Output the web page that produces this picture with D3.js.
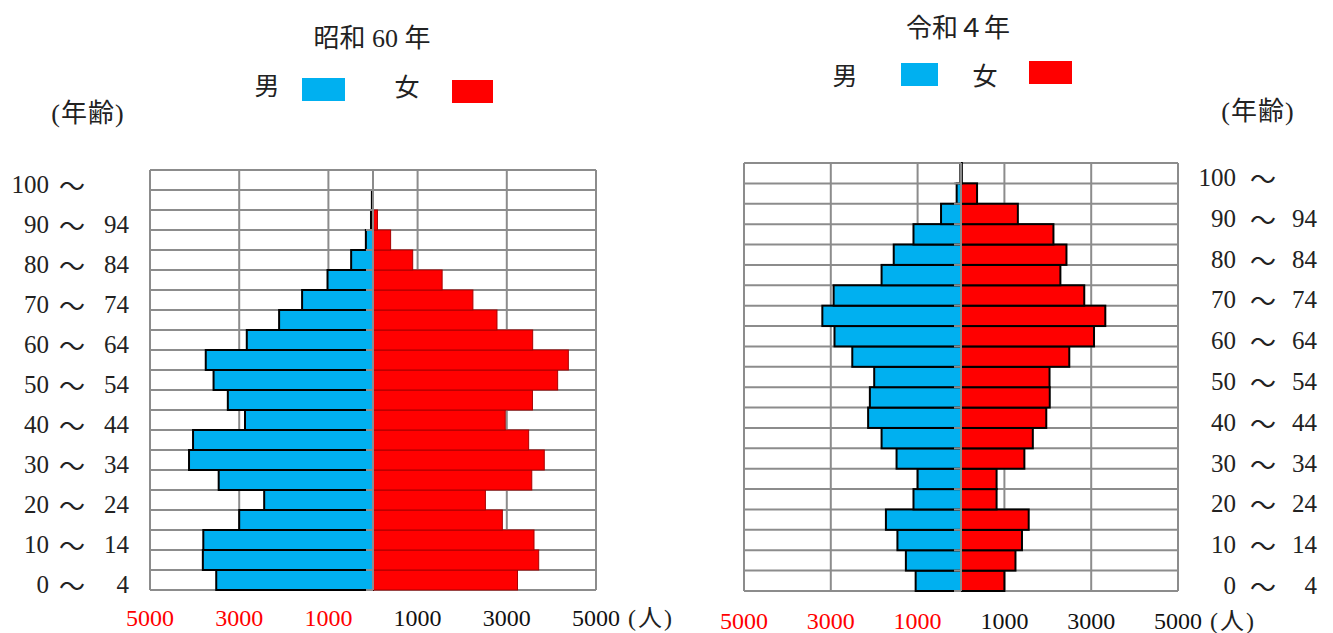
<!DOCTYPE html>
<html lang="ja">
<head>
  <meta charset="UTF-8">
  <title>人口ピラミッド</title>
  <style>
    body {
      margin: 0;
      background-color: #ffffff;
    }
    svg text {
      font-family: 'Liberation Serif', 'Noto Sans CJK JP', serif;
      fill: #222;
    }
  </style>
</head>
<body>
  <svg width="1333" height="633"></svg>
  <script src="https://d3js.org/d3.v7.min.js"></script>
  <script>
    // age groups, youngest first
    const ageGroups = ['0-4', '5-9', '10-14', '15-19', '20-24', '25-29', '30-34', '35-39', '40-44', '45-49',
      '50-54', '55-59', '60-64', '65-69', '70-74', '75-79', '80-84', '85-89', '90-94', '95-99', '100-'];
    const ageLabelLo = ['0', '10', '20', '30', '40', '50', '60', '70', '80', '90', '100'];
    const ageLabelHi = ['4', '14', '24', '34', '44', '54', '64', '74', '84', '94', ''];

    // 昭和60年
    const s60Male = [3515, 3815, 3805, 3000, 2440, 3460, 4125, 4035, 2870, 3255,
      3575, 3750, 2830, 2105, 1590, 1020, 490, 160, 45, 25, 0];
    const s60Female = [3240, 3715, 3610, 2900, 2520, 3560, 3840, 3490, 2965, 3575,
      4140, 4380, 3580, 2780, 2240, 1550, 890, 395, 100, 10, 0];

    // 令和4年
    const r4Male = [1045, 1270, 1465, 1730, 1095, 1000, 1485, 1830, 2140, 2100,
      2000, 2505, 2915, 3195, 2935, 1830, 1550, 1095, 460, 100, 15];
    const r4Female = [1000, 1255, 1405, 1560, 820, 820, 1460, 1655, 1965, 2045,
      2040, 2495, 3065, 3325, 2840, 2290, 2430, 2130, 1310, 370, 20];

    const xTicks = [-5000, -3000, -1000, 1000, 3000, 5000];
    const gridTicks = [-5000, -3000, -1000, 0, 1000, 3000, 5000];

    const svg = d3.select('svg');
    const blue = '#00b0f0';
    const red = '#ff0000';
    const gridColor = '#8c8c8c';

    function drawPyramid(cfg) {
      const g = svg.append('g');
      const x = d3.scaleLinear().domain([-5000, 5000]).range([cfg.left, cfg.right]);
      const y = d3.scaleBand().domain(ageGroups.slice().reverse()).range([cfg.top, cfg.bottom]).padding(0);
      const cx = x(0);

      // grid rows + columns
      const bounds = d3.range(ageGroups.length + 1).map(i => cfg.top + i * y.bandwidth());
      g.selectAll('line.hgrid').data(bounds).join('line')
        .attr('x1', cfg.left).attr('x2', cfg.right)
        .attr('y1', d => d).attr('y2', d => d)
        .attr('stroke', gridColor).attr('stroke-width', 2);
      g.selectAll('line.vgrid').data(gridTicks).join('line')
        .attr('x1', d => x(d)).attr('x2', d => x(d))
        .attr('y1', cfg.top).attr('y2', cfg.bottom)
        .attr('stroke', gridColor).attr('stroke-width', 2);

      // bars
      g.selectAll('rect.male').data(cfg.male).join('rect')
        .attr('x', d => x(-d))
        .attr('y', (d, i) => y(ageGroups[i]))
        .attr('width', d => cx - x(-d))
        .attr('height', y.bandwidth())
        .attr('fill', blue)
        .attr('stroke', '#000').attr('stroke-width', 2);
      g.selectAll('rect.female').data(cfg.female).join('rect')
        .attr('x', cx)
        .attr('y', (d, i) => y(ageGroups[i]))
        .attr('width', d => x(d) - cx)
        .attr('height', y.bandwidth())
        .attr('fill', red)
        .attr('stroke', cfg.femaleStroke).attr('stroke-width', cfg.femaleStrokeW);

      // centre axis and its ticks
      g.append('line')
        .attr('x1', cx).attr('x2', cx).attr('y1', cfg.top).attr('y2', cfg.bottom)
        .attr('stroke', gridColor).attr('stroke-width', 2);
      g.selectAll('line.tick').data(bounds).join('line')
        .attr('x1', cx - 7).attr('x2', cx)
        .attr('y1', d => d).attr('y2', d => d)
        .attr('stroke', gridColor).attr('stroke-width', 2);

      // x labels
      g.selectAll('text.xl').data(xTicks).join('text')
        .attr('x', d => x(d))
        .attr('y', cfg.xLabelY)
        .attr('text-anchor', 'middle')
        .style('font-size', '24px')
        .style('fill', d => d < 0 ? red : '#111')
        .text(d => Math.abs(d));
      g.append('text')
        .attr('x', x(5000) + 32).attr('y', cfg.xLabelY)
        .style('font-size', '24px')
        .style('letter-spacing', '2px')
        .text('(人)');

      // age labels, every other row
      const labelRows = ageLabelLo.map((d, i) => ({ lo: d, hi: ageLabelHi[i], grp: ageGroups[i * 2] }));
      const ly = d => y(d.grp) + y.bandwidth() / 2 + 13;
      g.selectAll('text.lo').data(labelRows).join('text')
        .attr('x', cfg.ageX[0]).attr('y', ly)
        .attr('text-anchor', 'end').style('font-size', '25px')
        .text(d => d.lo);
      g.selectAll('text.tl').data(labelRows).join('text')
        .attr('x', cfg.ageX[1]).attr('y', d => ly(d) + 3)
        .attr('text-anchor', 'middle').style('font-size', '26px')
        .text('～');
      g.selectAll('text.hi').data(labelRows).join('text')
        .attr('x', cfg.ageX[2]).attr('y', ly)
        .attr('text-anchor', 'end').style('font-size', '25px')
        .text(d => d.hi);

      // title + legend
      g.append('text')
        .attr('x', cfg.title.x).attr('y', cfg.title.y)
        .attr('text-anchor', 'middle').style('font-size', '26px')
        .text(cfg.title.text);
      cfg.legend.forEach(l => {
        g.append('text')
          .attr('x', l.tx).attr('y', l.ty)
          .attr('text-anchor', 'middle').style('font-size', '25px')
          .text(l.label);
        g.append('rect')
          .attr('x', l.rx).attr('y', l.ry)
          .attr('width', l.rw).attr('height', 23)
          .attr('fill', l.color);
      });
      g.append('text')
        .attr('x', cfg.ageTitle.x).attr('y', cfg.ageTitle.y)
        .attr('text-anchor', 'middle').style('font-size', '26px')
        .style('letter-spacing', '1px')
        .text('(年齢)');
    }

    drawPyramid({
      left: 150, right: 596, top: 170, bottom: 590,
      male: s60Male, female: s60Female,
      femaleStroke: '#a80000', femaleStrokeW: 1,
      xLabelY: 626,
      ageX: [49, 72, 129],
      title: { text: '昭和 60 年', x: 372, y: 47 },
      legend: [
        { label: '男', tx: 267, ty: 95, rx: 302, ry: 78, rw: 43, color: blue },
        { label: '女', tx: 407, ty: 96, rx: 452, ry: 80, rw: 41, color: red }
      ],
      ageTitle: { x: 88, y: 122 }
    });

    drawPyramid({
      left: 744, right: 1178, top: 163, bottom: 591,
      male: r4Male, female: r4Female,
      femaleStroke: '#000', femaleStrokeW: 2,
      xLabelY: 629,
      ageX: [1236, 1263, 1317],
      title: { text: '令和４年', x: 958, y: 37 },
      legend: [
        { label: '男', tx: 845, ty: 85, rx: 901, ry: 63, rw: 37, color: blue },
        { label: '女', tx: 985, ty: 85, rx: 1029, ry: 61, rw: 43, color: red }
      ],
      ageTitle: { x: 1258, y: 120 }
    });
  </script>
</body>
</html>
